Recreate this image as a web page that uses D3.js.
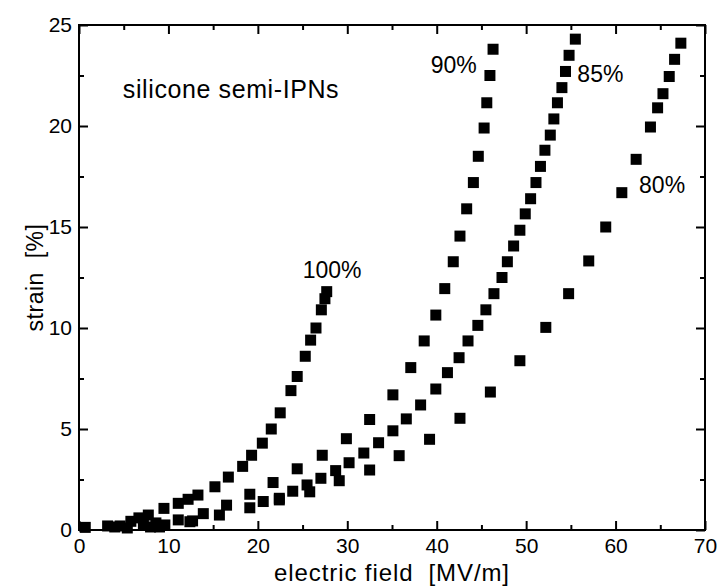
<!DOCTYPE html>
<html>
<head>
<meta charset="utf-8">
<script src="https://cdn.jsdelivr.net/npm/d3@7"></script>
<style>
  html, body { margin: 0; padding: 0; background: #fff; }
  svg text { font-family: 'Liberation Sans', Arial, sans-serif; fill: #000; }
</style>
</head>
<body>
<div id="chart"></div>
<script>
// strain [%] vs electric field [MV/m]
const series100 = [[0.7,0.13],[3.2,0.2],[4.6,0.2],[5.8,0.43],[6.7,0.6],[7.75,0.74],[9.5,1.07],[11.1,1.32],[12.2,1.52],[13.3,1.73],[15.2,2.14],[16.7,2.62],[18.3,3.15],[19.3,3.7],[20.5,4.3],[21.5,5.0],[22.5,5.8],[23.7,6.9],[24.4,7.6],[25.3,8.6],[25.9,9.4],[26.5,10.0],[27.1,10.9],[27.5,11.45],[27.7,11.8]];
const series90 = [[4.0,0.15],[7.2,0.25],[8.6,0.35],[11.1,0.5],[13.9,0.81],[16.5,1.23],[19.1,1.77],[21.7,2.35],[24.4,3.03],[27.2,3.7],[29.9,4.52],[32.5,5.47],[35.1,6.69],[37.1,8.04],[38.6,9.36],[39.9,10.64],[40.9,11.95],[41.85,13.28],[42.6,14.55],[43.35,15.9],[44.1,17.2],[44.65,18.5],[45.3,19.9],[45.6,21.15],[45.95,22.5],[46.3,23.8]];
const series85 = [[5.4,0.1],[8.0,0.15],[9.6,0.25],[12.4,0.41],[15.7,0.74],[19.1,1.1],[20.6,1.41],[22.4,1.57],[23.9,1.92],[25.5,2.23],[27.05,2.56],[28.7,2.94],[30.2,3.33],[31.85,3.81],[33.5,4.32],[35.1,4.91],[36.6,5.5],[38.2,6.19],[39.9,6.98],[41.2,7.79],[42.5,8.53],[43.5,9.36],[44.6,10.13],[45.5,10.9],[46.4,11.7],[47.3,12.5],[47.9,13.28],[48.6,14.06],[49.3,14.84],[49.9,15.65],[50.5,16.4],[51.1,17.2],[51.6,18.0],[52.1,18.8],[52.7,19.55],[53.1,20.35],[53.5,21.15],[54.0,21.9],[54.4,22.7],[54.8,23.5],[55.5,24.3]];
const series80 = [[9.0,0.15],[12.7,0.45],[22.4,1.49],[25.8,1.89],[29.1,2.44],[32.5,2.97],[35.8,3.68],[39.2,4.49],[42.6,5.53],[46.0,6.83],[49.3,8.38],[52.2,10.03],[54.75,11.7],[57.0,13.32],[58.9,15.0],[60.7,16.7],[62.3,18.35],[63.9,19.95],[64.7,20.9],[65.3,21.6],[66.0,22.45],[66.6,23.3],[67.3,24.1]];

const xTicks = [0, 10, 20, 30, 40, 50, 60, 70];
const xMinor = [5, 15, 25, 35, 45, 55, 65];
const yTicks = [0, 5, 10, 15, 20, 25];
const yMinor = [2.5, 7.5, 12.5, 17.5, 22.5];

// labels next to each curve: [text, x value, y value of baseline]
const curveLabels = [['100%', 28.3, 12.5], ['90%', 41.9, 22.6], ['85%', 58.3, 22.2], ['80%', 65.2, 16.7]];
const titleText = 'silicone semi-IPNs';

const W = 719, H = 588;
const margin = { top: 25, right: 14, bottom: 58, left: 79 };
const width = W - margin.left - margin.right;
const height = H - margin.top - margin.bottom;

const svg = d3.select('#chart').append('svg')
  .attr('width', W).attr('height', H);

const g = svg.append('g')
  .attr('transform', `translate(${margin.left},${margin.top})`);

const x = d3.scaleLinear().domain([0, 70]).range([0, width]);
const y = d3.scaleLinear().domain([0, 25]).range([height, 0]);

// points
const SQ = 11;
[series100, series90, series85, series80].forEach(s => {
  g.append('g').selectAll('rect')
    .data(s)
    .join('rect')
    .attr('x', d => x(d[0]) - SQ / 2)
    .attr('y', d => y(d[1]) - SQ / 2)
    .attr('width', SQ).attr('height', SQ)
    .attr('fill', '#000');
});

// axes, ticks inside on all four sides
function styleAxis(sel) {
  sel.select('.domain').remove();
  sel.selectAll('line').attr('stroke', '#000').attr('stroke-width', 2);
  sel.selectAll('text').style('font-size', '21px').attr('fill', '#000');
}

g.append('g').attr('transform', `translate(0,${height})`)
  .call(d3.axisBottom(x).tickValues(xTicks).tickSize(-9).tickPadding(8).tickFormat(d3.format('d')))
  .call(styleAxis);
g.append('g').attr('transform', `translate(0,${height})`)
  .call(d3.axisBottom(x).tickValues(xMinor).tickSize(-5).tickFormat(''))
  .call(styleAxis);
g.append('g')
  .call(d3.axisTop(x).tickValues(xTicks).tickSize(-9).tickFormat(''))
  .call(styleAxis);
g.append('g')
  .call(d3.axisTop(x).tickValues(xMinor).tickSize(-5).tickFormat(''))
  .call(styleAxis);

g.append('g')
  .call(d3.axisLeft(y).tickValues(yTicks).tickSize(-9).tickPadding(7).tickFormat(d3.format('d')))
  .call(styleAxis);
g.append('g')
  .call(d3.axisLeft(y).tickValues(yMinor).tickSize(-5).tickFormat(''))
  .call(styleAxis);
g.append('g').attr('transform', `translate(${width},0)`)
  .call(d3.axisRight(y).tickValues(yTicks).tickSize(-9).tickFormat(''))
  .call(styleAxis);
g.append('g').attr('transform', `translate(${width},0)`)
  .call(d3.axisRight(y).tickValues(yMinor).tickSize(-5).tickFormat(''))
  .call(styleAxis);

// frame
g.append('rect')
  .attr('width', width).attr('height', height)
  .attr('fill', 'none').attr('stroke', '#000').attr('stroke-width', 2);

// curve labels
g.selectAll('text.curve')
  .data(curveLabels)
  .join('text')
  .attr('class', 'curve')
  .attr('x', d => x(d[1]))
  .attr('y', d => y(d[2]))
  .attr('text-anchor', 'middle')
  .style('font-size', '23px')
  .text(d => d[0]);

g.append('text')
  .attr('x', x(4.9)).attr('y', y(21.4))
  .style('font-size', '25px')
  .style('letter-spacing', '0.6px')
  .text(titleText);

// axis titles
g.append('text')
  .attr('x', width / 2).attr('y', height + 51)
  .attr('text-anchor', 'middle')
  .style('font-size', '24px')
  .style('letter-spacing', '0.9px')
  .style('white-space', 'pre')
  .text('electric field  [MV/m]');

g.append('text')
  .attr('transform', 'rotate(-90)')
  .attr('x', -height / 2).attr('y', -36)
  .attr('text-anchor', 'middle')
  .style('font-size', '23px')
  .style('letter-spacing', '0.5px')
  .style('white-space', 'pre')
  .text('strain  [%]');
</script>
</body>
</html>
